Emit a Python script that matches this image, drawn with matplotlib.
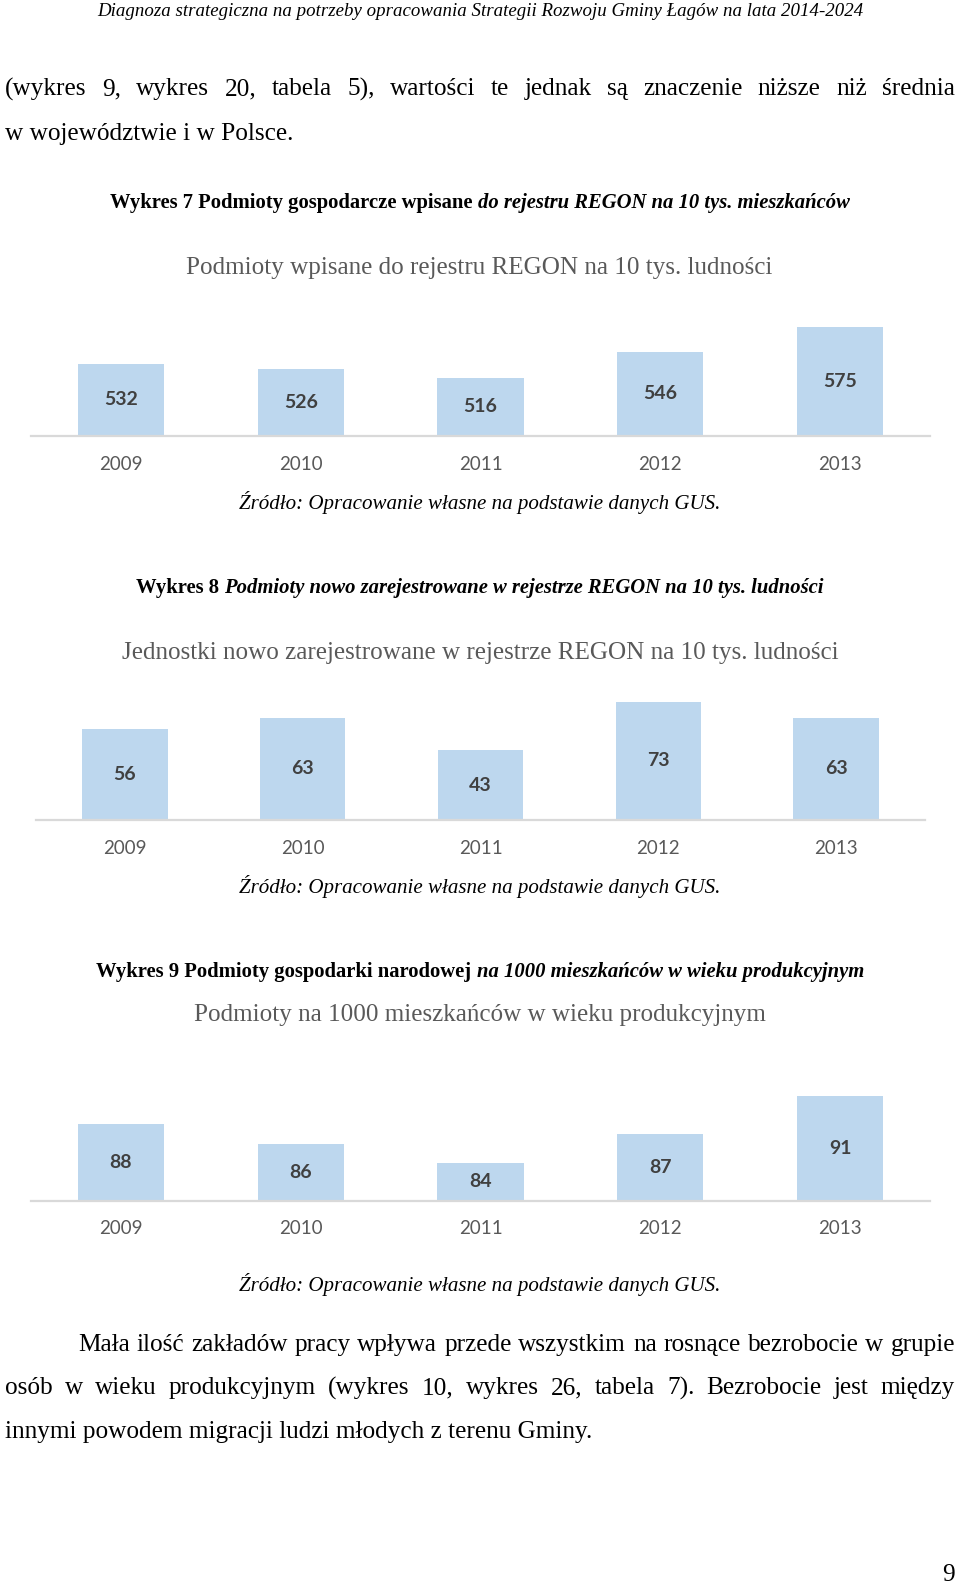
import matplotlib
matplotlib.use('Agg')
import matplotlib.pyplot as plt
import numpy as np

# dane
years = ['2009', '2010', '2011', '2012', '2013']
regon_total = [532, 526, 516, 546, 575]
regon_new = [56, 63, 43, 73, 63]
per_1000_prod = [88, 86, 84, 87, 91]

W, H = 960, 1585
fig = plt.figure(figsize=(W / 100, H / 100), dpi=100)
renderer = fig.canvas.get_renderer()

SERIF = 'Liberation Serif'
SANS = 'Lato'
BODY = 18.2
CAP = 14.9
TITLE = 18.1
SRC = 15.1


def fx(px):
    return px / W


def fy(py):
    return 1 - py / H


def put(x, y, s, **kw):
    kw.setdefault('family', SERIF)
    return fig.text(fx(x), fy(y), s, va='center', **kw)


def width(t):
    return t.get_window_extent(renderer).width


def justify(words, x0, x1, y, size):
    ts = [put(0, y, w, fontsize=size) for w in words]
    ws = [width(t) for t in ts]
    gap = (x1 - x0 - sum(ws)) / (len(ws) - 1)
    x = x0
    for t, w in zip(ts, ws):
        t.set_x(fx(x))
        x += w + gap


def caption(parts, xc, y, size):
    # pogrubiony podpis, czesc kursywa
    ts = [put(0, y, s, fontsize=size, fontweight='bold', fontstyle=st) for s, st in parts]
    ws = [width(t) for t in ts]
    sp = 0.25 * size * 100 / 72
    x = xc - (sum(ws) + sp * (len(ws) - 1)) / 2
    for t, w in zip(ts, ws):
        t.set_x(fx(x))
        x += w + sp


def bar_chart(vals, left, right, base, top, ylim, year_y):
    ax = fig.add_axes([fx(left), fy(base), (right - left) / W, (base - top) / H])
    x = np.arange(len(vals))
    ax.bar(x, vals, width=0.48, color='#BDD7EE')
    ax.set_xlim(-0.5, len(vals) - 0.5)
    ax.set_ylim(*ylim)
    for s in ax.spines.values():
        s.set_visible(False)
    ax.axhline(ylim[0], color='#D9D9D9', lw=1.6, clip_on=False)
    ax.set_yticks([])
    ax.set_xticks([])
    for i, v in enumerate(vals):
        ax.text(i, (ylim[0] + v) / 2, str(v), ha='center', va='center',
                fontweight='bold', color='#404040', family=SANS, fontsize=14)
    for i, yr in enumerate(years):
        xd = fig.transFigure.inverted().transform(ax.transData.transform((i, ylim[0])))[0]
        fig.text(xd, fy(year_y), yr, ha='center', va='center',
                 color='#595959', family=SANS, fontsize=13.5)
    return ax


# naglowek
put(480, 12, 'Diagnoza strategiczna na potrzeby opracowania Strategii Rozwoju Gminy Łagów na lata 2014-2024',
    ha='center', fontsize=13.6, fontstyle='italic')

justify('(wykres 9, wykres 20, tabela 5), wartości te jednak są znaczenie niższe niż średnia'.split(),
        5, 955, 89, BODY)
put(5, 134, 'w województwie i w Polsce.', fontsize=BODY)

# wykres 7
caption([('Wykres 7 Podmioty gospodarcze wpisane', 'normal'),
         ('do rejestru REGON na 10 tys. mieszkańców', 'italic')], 480, 203, CAP)
put(479, 268, 'Podmioty wpisane do rejestru REGON na 10 tys. ludności',
    ha='center', fontsize=TITLE, color='#595959')
bar_chart(regon_total, 31, 930, 436, 316, (448, 448 + 120 / 0.86), 464)
put(480, 502, 'Źródło: Opracowanie własne na podstawie danych GUS.',
    ha='center', fontsize=SRC, fontstyle='italic')

# wykres 8
caption([('Wykres 8', 'normal'),
         ('Podmioty nowo zarejestrowane w rejestrze REGON na 10 tys. ludności', 'italic')], 480, 588, CAP)
put(480, 653, 'Jednostki nowo zarejestrowane w rejestrze REGON na 10 tys. ludności',
    ha='center', fontsize=TITLE, color='#595959')
bar_chart(regon_new, 36, 925, 820, 690, (0, 130 / 1.62), 849)
put(480, 886, 'Źródło: Opracowanie własne na podstawie danych GUS.',
    ha='center', fontsize=SRC, fontstyle='italic')

# wykres 9
caption([('Wykres 9 Podmioty gospodarki narodowej', 'normal'),
         ('na 1000 mieszkańców w wieku produkcyjnym', 'italic')], 480, 972, CAP)
put(480, 1015, 'Podmioty na 1000 mieszkańców w wieku produkcyjnym',
    ha='center', fontsize=TITLE, color='#595959')
bar_chart(per_1000_prod, 31, 930, 1201, 1080, (80, 80 + 121 / 9.57), 1229)
put(480, 1284, 'Źródło: Opracowanie własne na podstawie danych GUS.',
    ha='center', fontsize=SRC, fontstyle='italic')

# tekst pod wykresami
justify('Mała ilość zakładów pracy wpływa przede wszystkim na rosnące bezrobocie w grupie'.split(),
        78, 955, 1345, BODY)
justify('osób w wieku produkcyjnym (wykres 10, wykres 26, tabela 7). Bezrobocie jest między'.split(),
        5, 955, 1388, BODY)
put(5, 1432, 'innymi powodem migracji ludzi młodych z terenu Gminy.', fontsize=BODY)
put(955, 1575, '9', ha='right', fontsize=BODY)

fig.savefig('out.png', dpi=100)
